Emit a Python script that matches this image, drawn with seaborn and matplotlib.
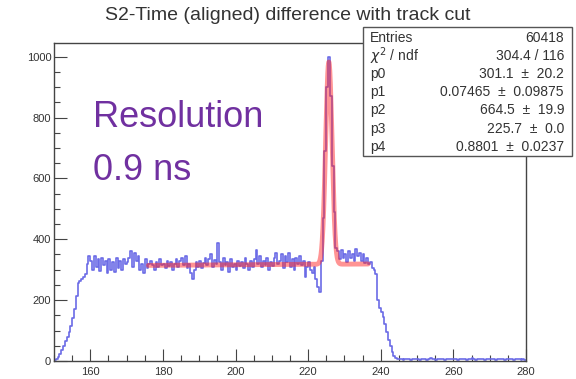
import numpy as np
import pandas as pd
import matplotlib
matplotlib.use("Agg")
import matplotlib.pyplot as plt
import seaborn as sns
from matplotlib.patches import Rectangle
from matplotlib.ticker import MultipleLocator

sns.set_theme(style="white")
plt.rcParams["font.family"] = ["Liberation Sans", "DejaVu Sans"]

# Histogram range and binning (ns)
X_MIN, X_MAX, BIN_WIDTH = 150.0, 280.0, 0.5

# Bin contents, one list per 10 ns block
counts_150_160 = [2, 5, 12, 22, 35, 50, 65, 80, 95, 115, 140, 170, 215, 255, 262, 270, 275, 285, 320, 345]
counts_160_170 = [330, 300, 345, 310, 335, 295, 340, 315, 330, 290, 335, 300, 325, 292, 340, 305, 330, 298, 335, 320]
counts_170_180 = [325, 340, 360, 310, 355, 330, 345, 300, 318, 290, 335, 305, 320, 330, 315, 300, 325, 310, 335, 315]
counts_180_190 = [320, 305, 330, 312, 325, 300, 318, 335, 310, 328, 340, 315, 345, 305, 320, 290, 268, 300, 325, 310]
counts_190_200 = [330, 305, 322, 340, 315, 335, 350, 310, 332, 318, 388, 325, 300, 340, 315, 325, 292, 335, 310, 320]
counts_200_210 = [298, 330, 312, 325, 305, 340, 318, 300, 328, 310, 335, 365, 320, 345, 308, 330, 315, 340, 300, 325]
counts_210_220 = [312, 338, 355, 318, 330, 350, 305, 345, 325, 356, 310, 335, 300, 340, 320, 345, 315, 330, 276, 310]
counts_220_230 = [325, 300, 289, 310, 270, 243, 227, 330, 470, 690, 900, 1000, 870, 640, 490, 372, 360, 335, 365, 340]
counts_230_240 = [350, 325, 360, 338, 352, 330, 368, 345, 355, 330, 350, 322, 340, 318, 325, 305, 300, 285, 200, 175]
counts_240_250 = [160, 145, 120, 95, 70, 48, 30, 16, 10, 7, 5, 8, 4, 6, 5, 7, 4, 6, 8, 5]
counts_250_260 = [6, 4, 7, 5, 8, 4, 6, 9, 5, 6, 4, 7, 5, 8, 6, 4, 7, 5, 6, 8]
counts_260_270 = [5, 7, 4, 6, 8, 5, 6, 4, 7, 5, 9, 6, 4, 7, 5, 6, 8, 4, 6, 5]
counts_270_280 = [7, 5, 6, 4, 8, 6, 5, 7, 4, 6, 5, 8, 6, 4, 7, 5, 6, 4, 5, 3]

# Fit: pol1 + gaus, parameters as quoted in the stat box
p0, p1, p2, p3, p4 = 301.1, 0.07465, 664.5, 225.7, 0.8801
FIT_MIN, FIT_MAX = 176.0, 236.5

PM = "  \u00b1  "
stat_labels = ["Entries", r"$\chi^{2}$ / ndf", "p0", "p1", "p2", "p3", "p4"]
stat_values = ["60418", "304.4 / 116", "301.1" + PM + "20.2", "0.07465" + PM + "0.09875",
               "664.5" + PM + "19.9", "225.7" + PM + "0.0", "0.8801" + PM + "0.0237"]

counts = np.array(counts_150_160 + counts_160_170 + counts_170_180 + counts_180_190
                  + counts_190_200 + counts_200_210 + counts_210_220 + counts_220_230
                  + counts_230_240 + counts_240_250 + counts_250_260 + counts_260_270
                  + counts_270_280, dtype=float)
n_bins = len(counts)
centers = X_MIN + BIN_WIDTH * (np.arange(n_bins) + 0.5)
hist_df = pd.DataFrame({"t": centers, "n": counts})

xs = np.linspace(FIT_MIN, FIT_MAX, 1500)
fit_df = pd.DataFrame({"t": xs,
                       "f": p0 + p1 * xs + p2 * np.exp(-0.5 * ((xs - p3) / p4) ** 2)})

W, H = 576, 379
fig = plt.figure(figsize=(W / 100, H / 100), dpi=100)
fig.patch.set_facecolor("white")
ax = fig.add_axes([54 / W, 18 / H, 472 / W, 318 / H])
ax.set_facecolor("white")

sns.histplot(data=hist_df, x="t", weights="n", bins=n_bins,
             binrange=(X_MIN, X_MAX), element="step", fill=False,
             color="#6b6be6", linewidth=1.2, ax=ax)
sns.lineplot(data=fit_df, x="t", y="f", color="#ff2a2a", alpha=0.5,
             linewidth=3.5, ax=ax)

ax.set_xlim(X_MIN, X_MAX)
ax.set_ylim(0, 1045)
ax.set_xlabel("")
ax.set_ylabel("")
ax.xaxis.set_major_locator(MultipleLocator(20))
ax.xaxis.set_minor_locator(MultipleLocator(5))
ax.yaxis.set_major_locator(MultipleLocator(200))
ax.yaxis.set_minor_locator(MultipleLocator(50))
ax.tick_params(which="both", direction="in", bottom=True, left=True,
               top=False, right=False, colors="#444444", labelcolor="#333333")
ax.tick_params(axis="x", which="major", length=9, width=0.8, labelsize=8, pad=4)
ax.tick_params(axis="y", which="major", length=9, width=0.8, labelsize=8, pad=2)
ax.tick_params(which="minor", length=4.5, width=0.8)
for sp in ax.spines.values():
    sp.set_color("#444444")
    sp.set_linewidth(1.0)

# Title
fig.text(0.5, 1 - 16 / H, "S2-Time (aligned) difference with track cut",
         ha="center", va="center", fontsize=14, color="#333333")

# Annotation
fig.text(93 / W, 1 - 127 / H, "Resolution", fontsize=26, color="#7030a0",
         va="baseline", ha="left")
fig.text(93 / W, 1 - 180 / H, "0.9 ns", fontsize=26, color="#7030a0",
         va="baseline", ha="left")

# Stat box
fig.patches.append(Rectangle((363 / W, 1 - 156 / H), 209 / W, 129 / H,
                             transform=fig.transFigure, facecolor="white",
                             edgecolor="#555555", linewidth=1.0, zorder=5))
for i, (lab, val) in enumerate(zip(stat_labels, stat_values)):
    yc = 1 - (38 + 18.1 * i) / H
    fig.text(370 / W, yc, lab, ha="left", va="center", fontsize=10,
             color="#333333", zorder=6)
    fig.text(564 / W, yc, val, ha="right", va="center", fontsize=10,
             color="#333333", zorder=6)

fig.savefig("out.png", dpi=100, facecolor="white")
